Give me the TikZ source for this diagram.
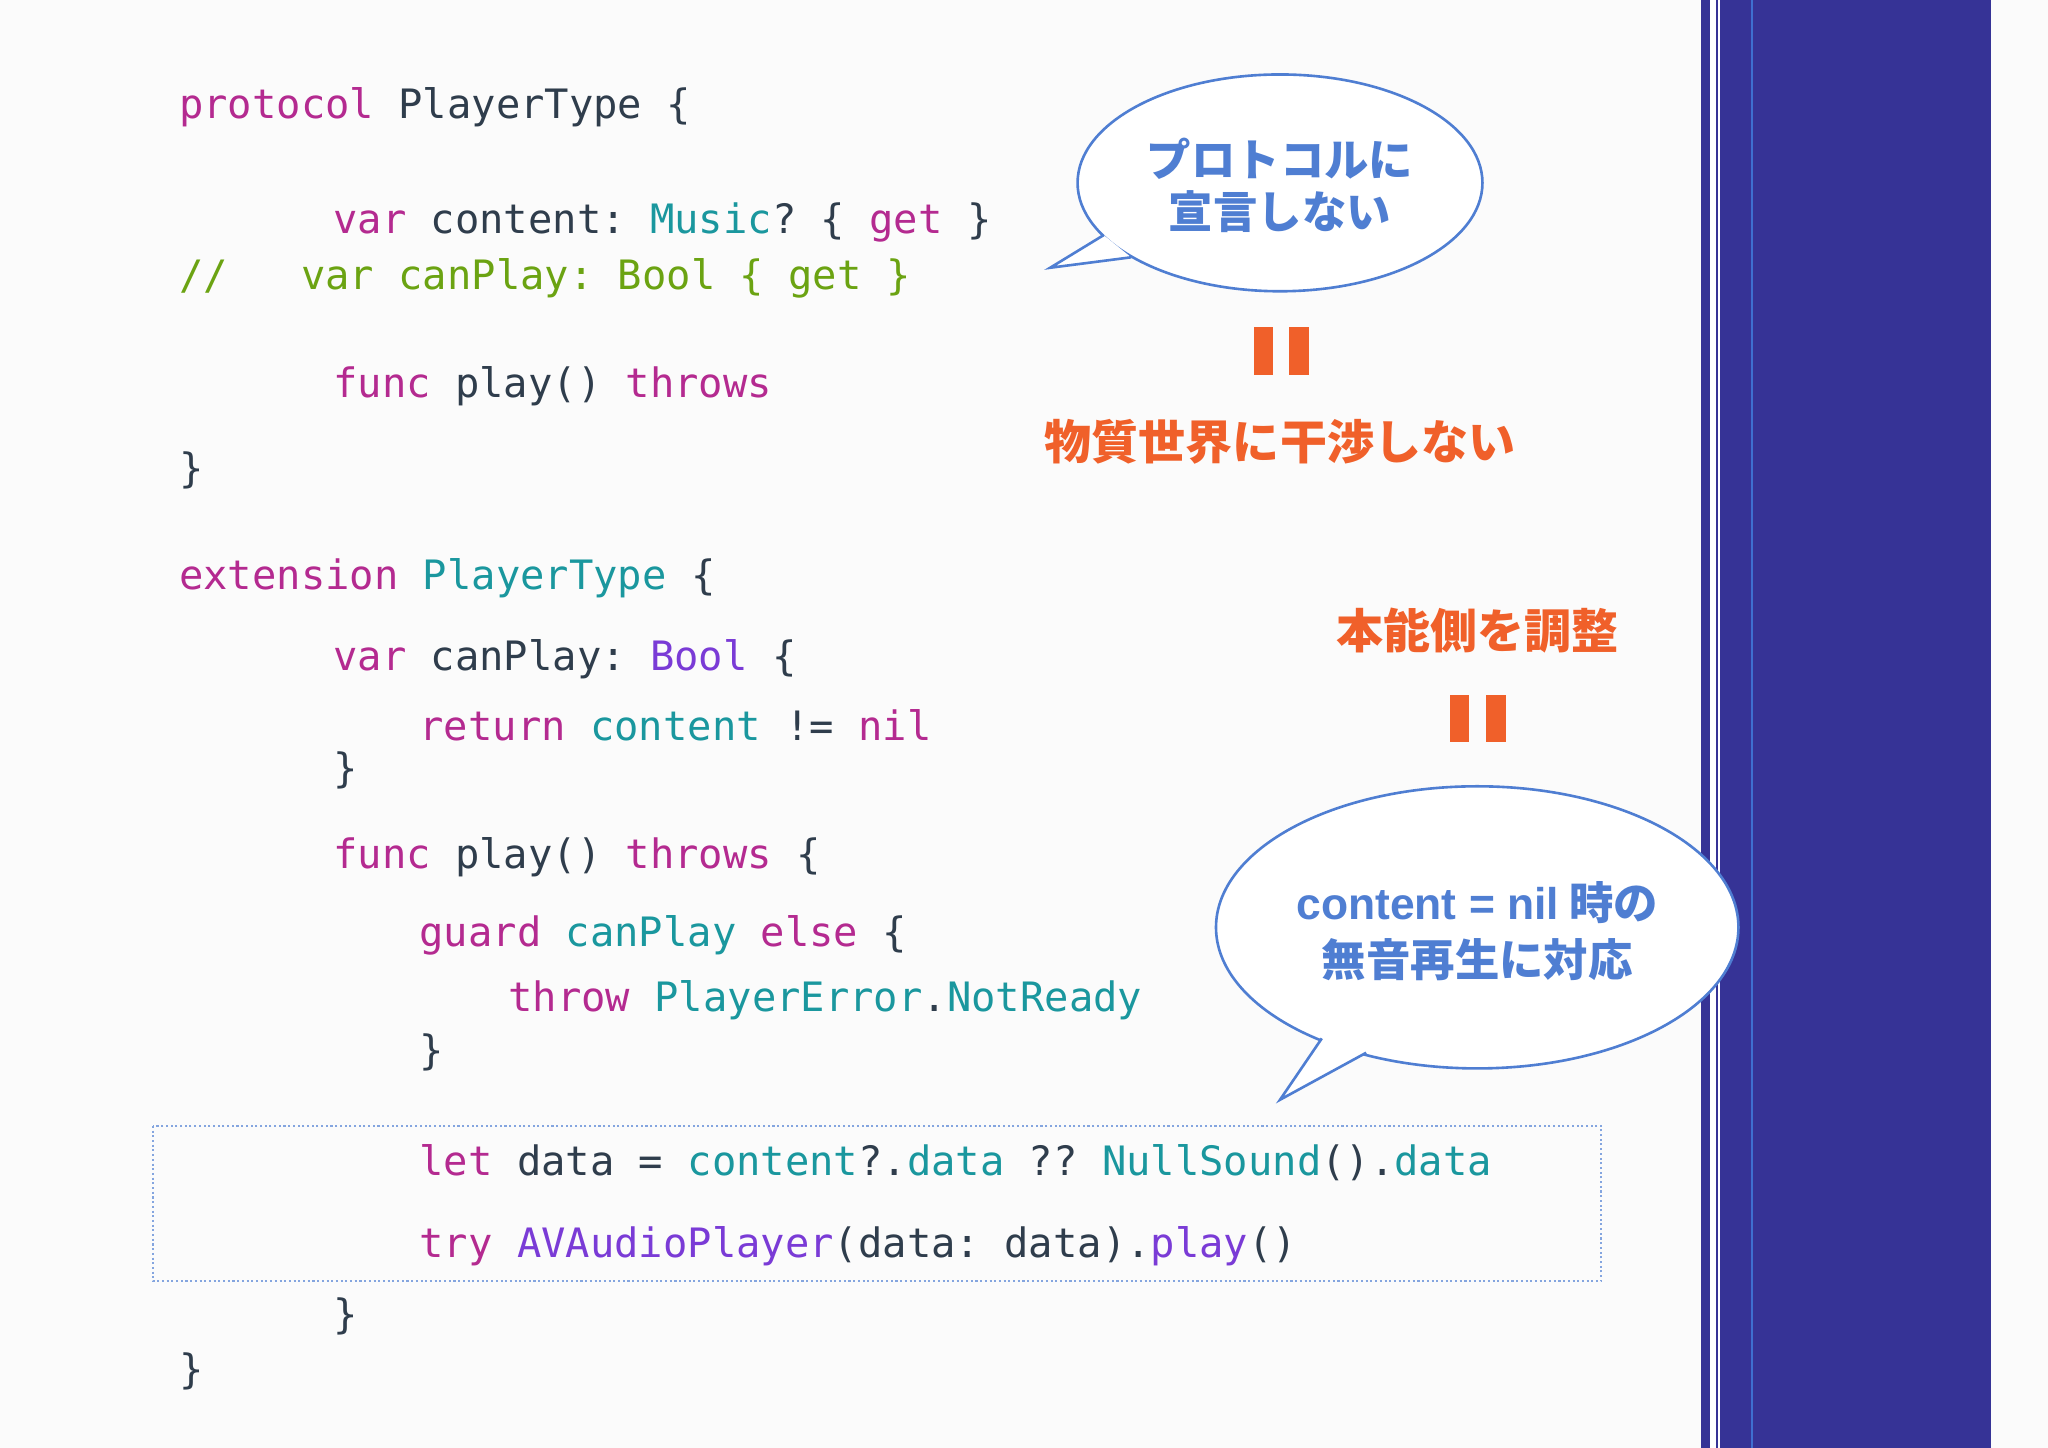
\documentclass[tikz,border=0pt]{standalone}
\usepackage{fontspec}
\setmonofont{DejaVu Sans Mono}
\setsansfont{Liberation Sans}
\newfontfamily\jp{Noto Sans CJK JP}
\definecolor{kw}{HTML}{B42A90}
\definecolor{ty}{HTML}{1A979E}
\definecolor{cm}{HTML}{6BA312}
\definecolor{pu}{HTML}{7A3BD6}
\definecolor{tx}{HTML}{2F3D4C}
\definecolor{bb}{HTML}{4F7ED2}
\definecolor{og}{HTML}{F0602A}
\definecolor{band}{HTML}{363396}
\definecolor{lb}{HTML}{3F6FD0}
\begin{document}
\begin{tikzpicture}[x=1pt,y=-1pt,
 code/.style={anchor=west,inner sep=0pt,font=\fontsize{31}{31}\ttfamily,text=tx},
 bub/.style={fill=white,draw=bb,line width=2pt},
 btxt/.style={align=center,text=bb,font=\fontsize{34}{40}\selectfont\jp\bfseries},
 otxt/.style={text=og,font=\fontsize{36}{40}\selectfont\jp\bfseries},
 bar/.style={fill=og}]
\useasboundingbox (0,0) rectangle (1568,1108.6);
\fill[white!97!gray] (0,0) rectangle (1568,1108.6);
% band
\fill[band] (1302,0) rectangle (1524,1108.6);
\fill[white] (1309.5,0) rectangle (1316.5,1108.6);
\fill[band] (1313.5,0) rectangle (1315,1108.6);
\fill[lb] (1340.5,0) rectangle (1342.5,1108.6);
% code
\node[code] (l1) at (137,82) {\textcolor{kw}{protocol} PlayerType \{};
\node[code] (l2) at (255,170) {\textcolor{kw}{var} content: \textcolor{ty}{Music}? \{ \textcolor{kw}{get} \}};
\node[code,text=cm] (l3) at (137,213) {//\phantom{xxx}var canPlay: Bool \{ get \}};
\node[code] (l4) at (255,296) {\textcolor{kw}{func} play() \textcolor{kw}{throws}};
\node[code] (l5) at (137,360) {\}};
\node[code] (l6) at (137,443) {\textcolor{kw}{extension} \textcolor{ty}{PlayerType} \{};
\node[code] (l7) at (255,505) {\textcolor{kw}{var} canPlay: \textcolor{pu}{Bool} \{};
\node[code] (l8) at (321,555) {\textcolor{kw}{return} \textcolor{ty}{content} != \textcolor{kw}{nil}};
\node[code] (l9) at (255,590) {\}};
\node[code] (l10) at (255,656) {\textcolor{kw}{func} play() \textcolor{kw}{throws} \{};
\node[code] (l11) at (321,716) {\textcolor{kw}{guard} \textcolor{ty}{canPlay} \textcolor{kw}{else} \{};
\node[code] (l12) at (389,766) {\textcolor{kw}{throw} \textcolor{ty}{PlayerError}.\textcolor{ty}{NotReady}};
\node[code] (l13) at (321,806) {\}};
\node[code] (l14) at (321,890) {\textcolor{kw}{let} data = \textcolor{ty}{content}?.\textcolor{ty}{data} ?? \textcolor{ty}{NullSound}().\textcolor{ty}{data}};
\node[code] (l15) at (321,954) {\textcolor{kw}{try} \textcolor{pu}{AVAudioPlayer}(data: data).\textcolor{pu}{play}()};
\node[code] (l16) at (255,1008) {\}};
\node[code] (l17) at (137,1050) {\}};
\draw[bb!70,dotted,line width=1.6pt] (117,862) rectangle (1226,981);
% bubble 1
\draw[bub] (980,140) ellipse [x radius=155,y radius=83];
\fill[white] (845,180) -- (804,205) -- (866,197) -- cycle;
\draw[bb,line width=2pt,line join=miter] (845,180) -- (804,205) -- (866,197);
\node[btxt] (b1) at (980,142) {プロトコルに\\宣言しない};
% bubble 2
\draw[bub] (1131,710) ellipse [x radius=200,y radius=108];
\fill[white] (1012,795) -- (980,842) -- (1046,806) -- cycle;
\draw[bb,line width=2pt] (1012,795) -- (980,842) -- (1046,806);
\node[btxt,font=\fontsize{34}{44}\selectfont\jp\bfseries] (b2) at (1131,713) {{\sffamily content = nil} 時の\\無音再生に対応};
% orange
\fill[og] (960,250) rectangle (975,287);
\fill[og] (987,250) rectangle (1002,287);
\node[otxt] (o1) at (980,338) {物質世界に干渉しない};
\node[otxt] (o2) at (1131,483) {本能側を調整};
\fill[og] (1110,532) rectangle (1125,568);
\fill[og] (1138,532) rectangle (1153,568);
\end{tikzpicture}
\end{document}
